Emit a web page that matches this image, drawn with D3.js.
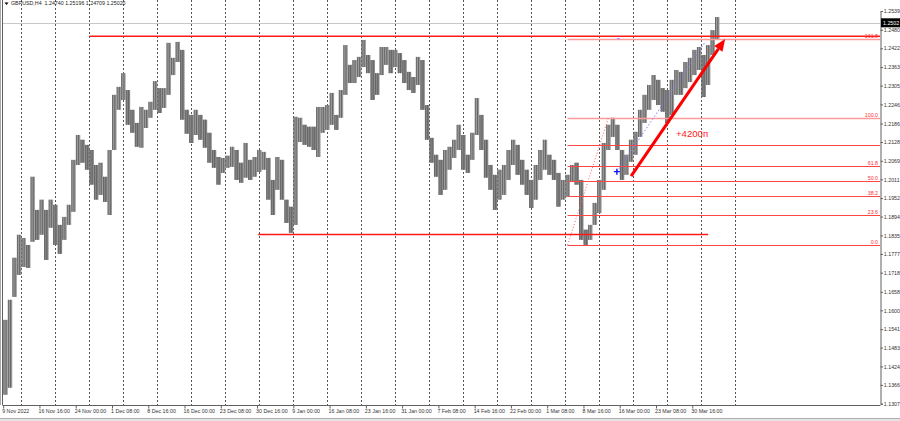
<!DOCTYPE html>
<meta charset="utf-8">
<style>
  body { margin: 0; background: #fff; }
  svg text { font-family: "Liberation Sans", Arial, sans-serif; }
</style>
<svg width="900" height="421"></svg>
<script src="https://cdn.jsdelivr.net/npm/d3@7"></script>
<script>
  // ---------------------------------------------------------------- data
  // GBPUSD H4: one point = 4 bars (high / low)
  var highs = [1.1570,1.1633,1.1765,1.1837,1.1827,1.1805,1.2019,1.1915,1.1947,1.1915,
    1.1947,1.1931,1.1868,1.1893,1.1931,1.2072,1.2150,1.2135,1.2119,1.2103,
    1.2056,1.2063,1.2019,1.2103,1.2276,1.2301,1.2344,1.2291,1.2229,1.2188,
    1.2238,1.2229,1.2254,1.2319,1.2297,1.2297,1.2439,1.2392,1.2442,1.2417,
    1.2229,1.2213,1.2229,1.2213,1.2198,1.2157,1.2103,1.2081,1.2078,1.2085,
    1.2113,1.2103,1.2063,1.2125,1.2072,1.2081,1.2103,1.2097,1.2078,1.2009,
    1.2081,1.2072,1.1947,1.1925,1.2207,1.2204,1.2182,1.2176,1.2176,1.2238,
    1.2238,1.2244,1.2282,1.2213,1.2291,1.2432,1.2370,1.2385,1.2395,1.2448,
    1.2401,1.2385,1.2344,1.2426,1.2426,1.2417,1.2417,1.2407,1.2385,1.2348,
    1.2332,1.2395,1.2385,1.2244,1.2141,1.2088,1.2072,1.2103,1.2113,1.2135,
    1.2182,1.2150,1.2088,1.2157,1.2266,1.2213,1.2135,1.2056,1.2025,1.2041,
    1.2056,1.2103,1.2135,1.2119,1.2072,1.2041,1.2009,1.2056,1.2103,1.2135,
    1.2088,1.2072,1.2031,1.2009,1.2025,1.2056,1.2063,1.2009,1.1853,1.1868,
    1.1937,1.2009,1.2125,1.2182,1.2204,1.2182,1.2103,1.2088,1.2135,1.2160,
    1.2229,1.2276,1.2307,1.2338,1.2323,1.2297,1.2291,1.2323,1.2354,1.2348,
    1.2379,1.2392,1.2417,1.2426,1.2401,1.2432,1.2479,1.2520];
  var lows = [1.1335,1.1357,1.1642,1.1711,1.1736,1.1733,1.1815,1.1821,1.1837,1.1758,
    1.1859,1.1805,1.1777,1.1821,1.1868,1.1909,1.2056,1.2063,1.2041,1.1994,
    1.1947,1.1962,1.1940,1.1899,1.2103,1.2229,1.2260,1.2182,1.2157,1.2113,
    1.2110,1.2172,1.2204,1.2229,1.2219,1.2235,1.2276,1.2338,1.2379,1.2198,
    1.2154,1.2125,1.2150,1.2135,1.2110,1.2063,1.2047,1.1994,1.2031,1.2047,
    1.2050,1.2009,1.2000,1.2016,1.2009,1.2019,1.2034,1.2041,1.1947,1.1899,
    1.1978,1.1947,1.1874,1.1843,1.1868,1.2128,1.2119,1.2113,1.2103,1.2081,
    1.2157,1.2166,1.2182,1.2166,1.2204,1.2276,1.2313,1.2313,1.2332,1.2363,
    1.2344,1.2260,1.2276,1.2338,1.2370,1.2344,1.2363,1.2344,1.2313,1.2291,
    1.2282,1.2307,1.2229,1.2135,1.2063,1.2019,1.1962,1.1978,1.2041,1.2078,
    1.2103,1.2041,1.2031,1.2072,1.2150,1.2103,1.2016,1.1978,1.1915,1.1947,
    1.1962,1.2009,1.2056,1.2025,1.1994,1.1962,1.1921,1.1947,1.2009,1.2041,
    1.2025,1.2009,1.1925,1.1947,1.1956,1.2003,1.1994,1.1821,1.1805,1.1821,
    1.1868,1.1905,1.1978,1.2103,1.2144,1.2103,1.2009,1.2025,1.2066,1.2088,
    1.2144,1.2188,1.2229,1.2260,1.2244,1.2223,1.2188,1.2213,1.2276,1.2276,
    1.2297,1.2316,1.2338,1.2354,1.2269,1.2307,1.2401,1.2448];
  var barsPerPoint = 4;

  var timeLabels = ["9 Nov 2022","16 Nov 16:00","24 Nov 00:00","1 Dec 08:00","8 Dec 16:00",
    "16 Dec 00:00","23 Dec 08:00","30 Dec 16:00","9 Jan 00:00","16 Jan 08:00","23 Jan 16:00",
    "31 Jan 00:00","7 Feb 08:00","14 Feb 16:00","22 Feb 00:00","1 Mar 08:00","8 Mar 16:00",
    "16 Mar 00:00","23 Mar 08:00","30 Mar 16:00"];
  var labelStep = 32;               // bars between time labels
  var gridFirst = 16, gridStep = 30; // weekly separators (bar index)
  var gridCount = 22;

  var priceTicks = [1.2539,1.2480,1.2422,1.2363,1.2305,1.2246,1.2186,1.2128,1.2069,1.2011,
    1.1952,1.1894,1.1835,1.1777,1.1718,1.1658,1.1600,1.1541,1.1483,1.1424,1.1366,1.1307];

  var header = "GBPUSD,H4  1.24740 1.25196 1.24709 1.25020";
  var lastBid = 1.2502;

  // horizontal levels: price, from bar, to bar (null = right edge)
  var levels = [
    { price: 1.2460, from: 76, to: null },
    { price: 1.1838, from: 225, to: 622 }
  ];
  // fibonacci retracement
  var fibLow = 1.1805, fibHigh = 1.2204, fibFrom = 498, fibTo = 534;
  var fibRatios = [0, 0.236, 0.382, 0.5, 0.618, 0.786, 1, 1.618];
  var fibLabels = ["0.0", "23.6", "38.2", "50.0", "61.8", "", "100.0", "161.8"];
  // markers
  var crossPoint = { bar: 541.5, price: 1.2035 };
  var trendEnd = { bar: 619, price: 1.2440 };
  var arrowFrom = { bar: 554, price: 1.2021 };
  var arrowTo = { bar: 637, price: 1.2451 };
  var arrowText = "+4200п";

  // --------------------------------------------------------- definitions
  var W = 900, H = 421;
  var plotRight = 880, plotBottom = 405;
  var x = d3.scaleLinear().domain([0, 772]).range([3.2, 3.2 + 772 * 34 / 30]);
  var y = d3.scaleLinear().domain([1.1307, 1.2539]).range([403.7, 11]);
  var svg = d3.select("svg");
  var fs = 5.3;

  // ---------------------------------------------------------------- grid
  var grid = svg.append("g");
  grid.selectAll("line")
    .data(d3.range(gridCount).map(function(k) { return gridFirst + k * gridStep; }))
    .enter().append("line")
      .attr("x1", function(d) { return Math.round(x(d)) + 0.5; })
      .attr("x2", function(d) { return Math.round(x(d)) + 0.5; })
      .attr("y1", 0).attr("y2", plotBottom)
      .attr("stroke", "#555").attr("stroke-width", 1)
      .attr("stroke-dasharray", "2,2");

  // bid line
  svg.append("line")
    .attr("x1", 3).attr("x2", plotRight)
    .attr("y1", Math.round(y(lastBid)) + 0.5).attr("y2", Math.round(y(lastBid)) + 0.5)
    .attr("stroke", "#c8c8c8");

  // ---------------------------------------------------------------- bars
  var pts = highs.map(function(h, i) {
    return { i: i, h: h, l: lows[i], m: (h + lows[i]) / 2 };
  });
  var step = x(barsPerPoint) - x(0);
  var bars = svg.append("g").selectAll("g")
    .data(pts)
    .enter().append("g");
  bars.append("rect")
      .attr("x", function(d) { return x(d.i * barsPerPoint) + 0.3; })
      .attr("width", step - 0.3)
      .attr("y", function(d) { return y(d.h); })
      .attr("height", function(d) { return Math.max(1, y(d.l) - y(d.h)); })
      .attr("fill", function(d) {
        var prev = d.i > 0 ? pts[d.i - 1].m : d.m;
        return d.m >= prev ? "#9a9a9a" : "#858585";
      });
  // wick texture, one thin stroke per H4 bar slot
  bars.selectAll("line")
    .data(function(d) { return [0.5, 2.5].map(function(o) { return { d: d, o: o }; }); })
    .enter().append("line")
      .attr("x1", function(e) { return x(e.d.i * barsPerPoint + e.o); })
      .attr("x2", function(e) { return x(e.d.i * barsPerPoint + e.o); })
      .attr("y1", function(e) { return y(e.d.h); })
      .attr("y2", function(e) { return y(e.d.l); })
      .attr("stroke", "#606060").attr("stroke-width", 0.9);

  // ------------------------------------------------------------- levels
  svg.append("g").selectAll("line")
    .data(levels)
    .enter().append("line")
      .attr("x1", function(d) { return x(d.from); })
      .attr("x2", function(d) { return d.to == null ? plotRight : x(d.to); })
      .attr("y1", function(d) { return y(d.price); })
      .attr("y2", function(d) { return y(d.price); })
      .attr("stroke", "#ff1a1a").attr("stroke-width", 1.6);

  // fibonacci
  var fib = svg.append("g");
  var fibData = fibRatios.map(function(r, i) {
    return { p: fibLow + r * (fibHigh - fibLow), label: fibLabels[i], r: r };
  });
  fib.selectAll("line.lvl")
    .data(fibData)
    .enter().append("line")
      .attr("class", "lvl")
      .attr("x1", x(fibFrom)).attr("x2", plotRight)
      .attr("y1", function(d) { return Math.round(y(d.p)) + 0.5; })
      .attr("y2", function(d) { return Math.round(y(d.p)) + 0.5; })
      .attr("stroke", function(d) { return d.r >= 1 ? "#ff9a9a" : "#ff4646"; })
      .attr("stroke-width", function(d) { return d.r >= 1 ? 1.6 : 1; });
  fib.selectAll("text")
    .data(fibData.filter(function(d) { return d.label; }))
    .enter().append("text")
      .attr("x", 878).attr("y", function(d) { return Math.round(y(d.p)) - 1; })
      .attr("text-anchor", "end")
      .attr("font-size", fs).attr("fill", "#ff3030")
      .text(function(d) { return d.label; });
  fib.append("line")
    .attr("x1", x(fibFrom)).attr("y1", y(fibLow))
    .attr("x2", x(fibTo)).attr("y2", y(fibHigh))
    .attr("stroke", "#ff5a5a").attr("stroke-dasharray", "1,2");

  // blue trend + cross
  svg.append("line")
    .attr("x1", x(crossPoint.bar)).attr("y1", y(crossPoint.price))
    .attr("x2", x(trendEnd.bar)).attr("y2", y(trendEnd.price))
    .attr("stroke", "#7b7bff").attr("stroke-dasharray", "1.5,2");
  var cx = x(crossPoint.bar), cy = y(crossPoint.price);
  svg.append("path")
    .attr("d", "M" + (cx - 3) + "," + cy + "H" + (cx + 3) + "M" + cx + "," + (cy - 3) + "V" + (cy + 3))
    .attr("stroke", "#1010ff").attr("stroke-width", 1.4);
  svg.append("line")
    .attr("x1", x(crossPoint.bar)).attr("x2", x(crossPoint.bar) + 3)
    .attr("y1", y(levels[0].price) + 2.5).attr("y2", y(levels[0].price) + 2.5)
    .attr("stroke", "#9a9aff").attr("stroke-width", 1.2);

  // red arrow
  var ax1 = x(arrowFrom.bar), ay1 = y(arrowFrom.price);
  var ax2 = x(arrowTo.bar), ay2 = y(arrowTo.price);
  var ang = Math.atan2(ay2 - ay1, ax2 - ax1);
  var headL = 12, headW = 5;
  var bx = ax2 - headL * Math.cos(ang), by = ay2 - headL * Math.sin(ang);
  svg.append("line")
    .attr("x1", ax1).attr("y1", ay1).attr("x2", bx).attr("y2", by)
    .attr("stroke", "#ff0000").attr("stroke-width", 3);
  svg.append("polygon")
    .attr("points", [
      [ax2, ay2],
      [bx + headW * Math.sin(ang), by - headW * Math.cos(ang)],
      [bx - headW * Math.sin(ang), by + headW * Math.cos(ang)]
    ].map(function(p) { return p.join(","); }).join(" "))
    .attr("fill", "#ff0000");
  svg.append("text")
    .attr("x", 676).attr("y", 137)
    .attr("font-size", 9.6).attr("fill", "#ff2020")
    .text(arrowText);

  // ---------------------------------------------------------------- axes
  var frame = svg.append("g").attr("stroke", "#606060").attr("fill", "none");
  frame.append("line").attr("x1", 0.5).attr("x2", 0.5).attr("y1", 0).attr("y2", plotBottom).attr("stroke", "#aaa");
  frame.append("line").attr("x1", 2.5).attr("x2", 2.5).attr("y1", 0).attr("y2", plotBottom);

  var yAxis = svg.append("g")
    .attr("transform", "translate(" + (plotRight + 0.5) + ",0)")
    .call(d3.axisRight(y).tickValues(priceTicks).tickFormat(d3.format(".4f")).tickSize(2.5).tickPadding(0.8));
  var xAxis = svg.append("g")
    .attr("transform", "translate(0," + (plotBottom + 0.5) + ")")
    .call(d3.axisBottom(x)
      .tickValues(timeLabels.map(function(t, k) { return k * labelStep; }))
      .tickFormat(function(d) { return timeLabels[d / labelStep]; })
      .tickSize(3).tickSizeOuter(0));
  xAxis.select(".domain").attr("d", "M2.5,0H" + (plotRight + 0.5));
  [xAxis, yAxis].forEach(function(a) {
    a.selectAll("path,line").attr("stroke", "#606060");
    a.selectAll("text").attr("font-size", fs).attr("fill", "#333")
      .attr("font-family", '"Liberation Sans", Arial, sans-serif');
  });
  xAxis.selectAll("text").attr("text-anchor", "start").attr("x", -1.5).attr("y", 4);

  // bid box
  svg.append("rect")
    .attr("x", plotRight + 1).attr("y", y(lastBid) - 4.5)
    .attr("width", 19).attr("height", 9).attr("fill", "#000");
  svg.append("text")
    .attr("x", plotRight + 3).attr("y", y(lastBid))
    .attr("dy", "0.35em").attr("font-size", fs).attr("fill", "#fff")
    .text(d3.format(".4f")(lastBid));

  // header
  svg.append("path").attr("d", "M4.5,2.5H8.5L6.5,5Z").attr("fill", "#000");
  svg.append("text")
    .attr("x", 11).attr("y", 5.4)
    .attr("font-size", fs).attr("fill", "#222")
    .attr("xml:space", "preserve")
    .text(header);

  // bottom tab strip
  svg.append("rect").attr("x", 0).attr("y", 418).attr("width", W).attr("height", 3).attr("fill", "#e4e4e4");
  svg.append("line").attr("x1", 0).attr("x2", W).attr("y1", 418.5).attr("y2", 418.5).attr("stroke", "#b0b0b0");
</script>
